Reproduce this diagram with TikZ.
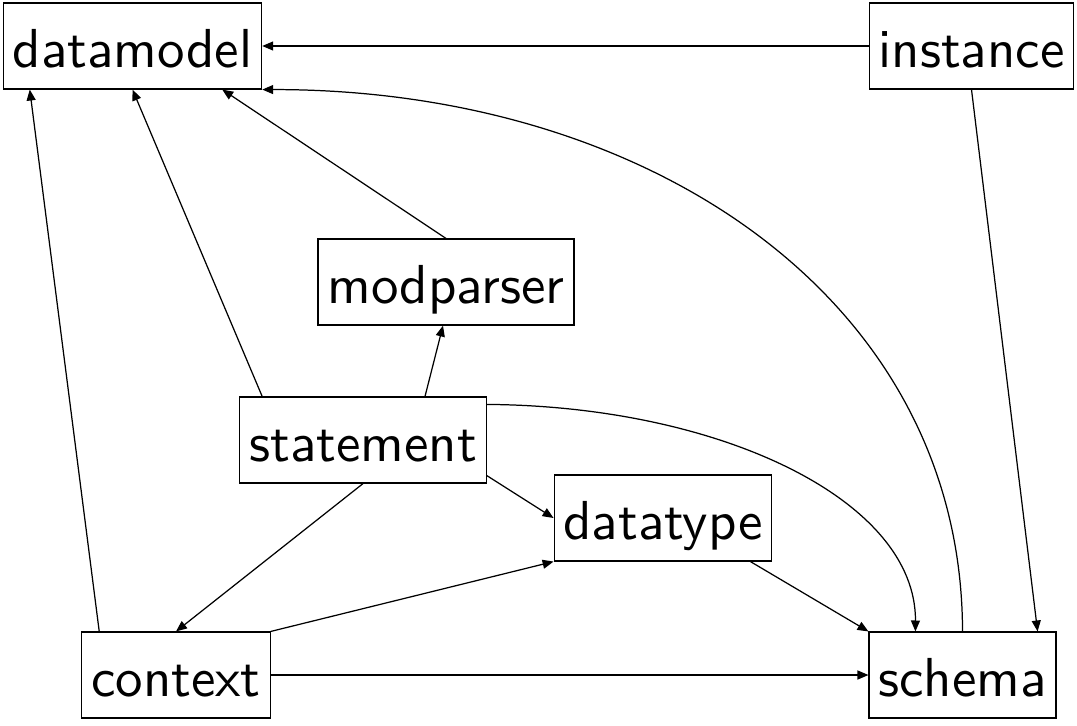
\documentclass[tikz,border=0pt]{standalone}
\usepackage{fontspec}
\newfontfamily\modfont{lmsans10-regular.otf}
\usetikzlibrary{calc,arrows.meta}
\tikzset{
  mod/.style={draw, line width=0.45pt, font=\modfont\fontsize{20}{24}\selectfont,
    inner xsep=0.12cm, inner ysep=0pt, minimum height=1.1cm,
    text height=0.7cm, text depth=0.14cm},
  dep/.style={draw, line width=0.45pt, -{Triangle[length=0.14cm,width=0.115cm]}},
}
\begin{document}
\begin{tikzpicture}[x=0.0128cm, y=-0.0128cm]
  \useasboundingbox (0,0) rectangle (1077,725);
  % modules
  \node[mod] (datamodel) at (132.5,46)  {datamodel};
  \node[mod] (instance)  at (971.5,46)  {instance};
  \node[mod] (modparser) at (446,282)   {modparser};
  \node[mod] (statement) at (363,440)   {statement};
  \node[mod] (datatype)  at (663,518)   {datatype};
  \node[mod] (context)   at (176,675)   {context};
  \node[mod] (schema)    at (962.5,675) {schema};

  % dependencies
  \draw[dep] (instance) -- (datamodel);
  \draw[dep] (schema.north) .. controls (962,300) and (650,89) .. (datamodel.south east);
  \draw[dep] (instance.south) -- ($(schema.north east)+(-19,0)$);
  \draw[dep] (modparser.north) -- ($(datamodel.south east)+(-40,0)$);
  \draw[dep] ($(statement.north west)+(23,0)$) -- (datamodel.south);
  \draw[dep] ($(context.north west)+(18,0)$) -- ($(datamodel.south west)+(27,0)$);
  \draw[dep] ($(statement.north)+(62,0)$) -- ($(modparser.south)+(-3,0)$);
  \draw[dep] ($(statement.north east)+(0,8)$) .. controls (720,406) and (916,500) .. ($(schema.north west)+(47,0)$);
  \draw[dep] ($(statement.south east)+(0,-8)$) -- (datatype.west);
  \draw[dep] (statement.south) -- (context.north);
  \draw[dep] (context.north east) -- (datatype.south west);
  \draw[dep] (context) -- (schema);
  \draw[dep] ($(datatype.south east)+(-22,0)$) -- (schema.north west);
\end{tikzpicture}
\end{document}
